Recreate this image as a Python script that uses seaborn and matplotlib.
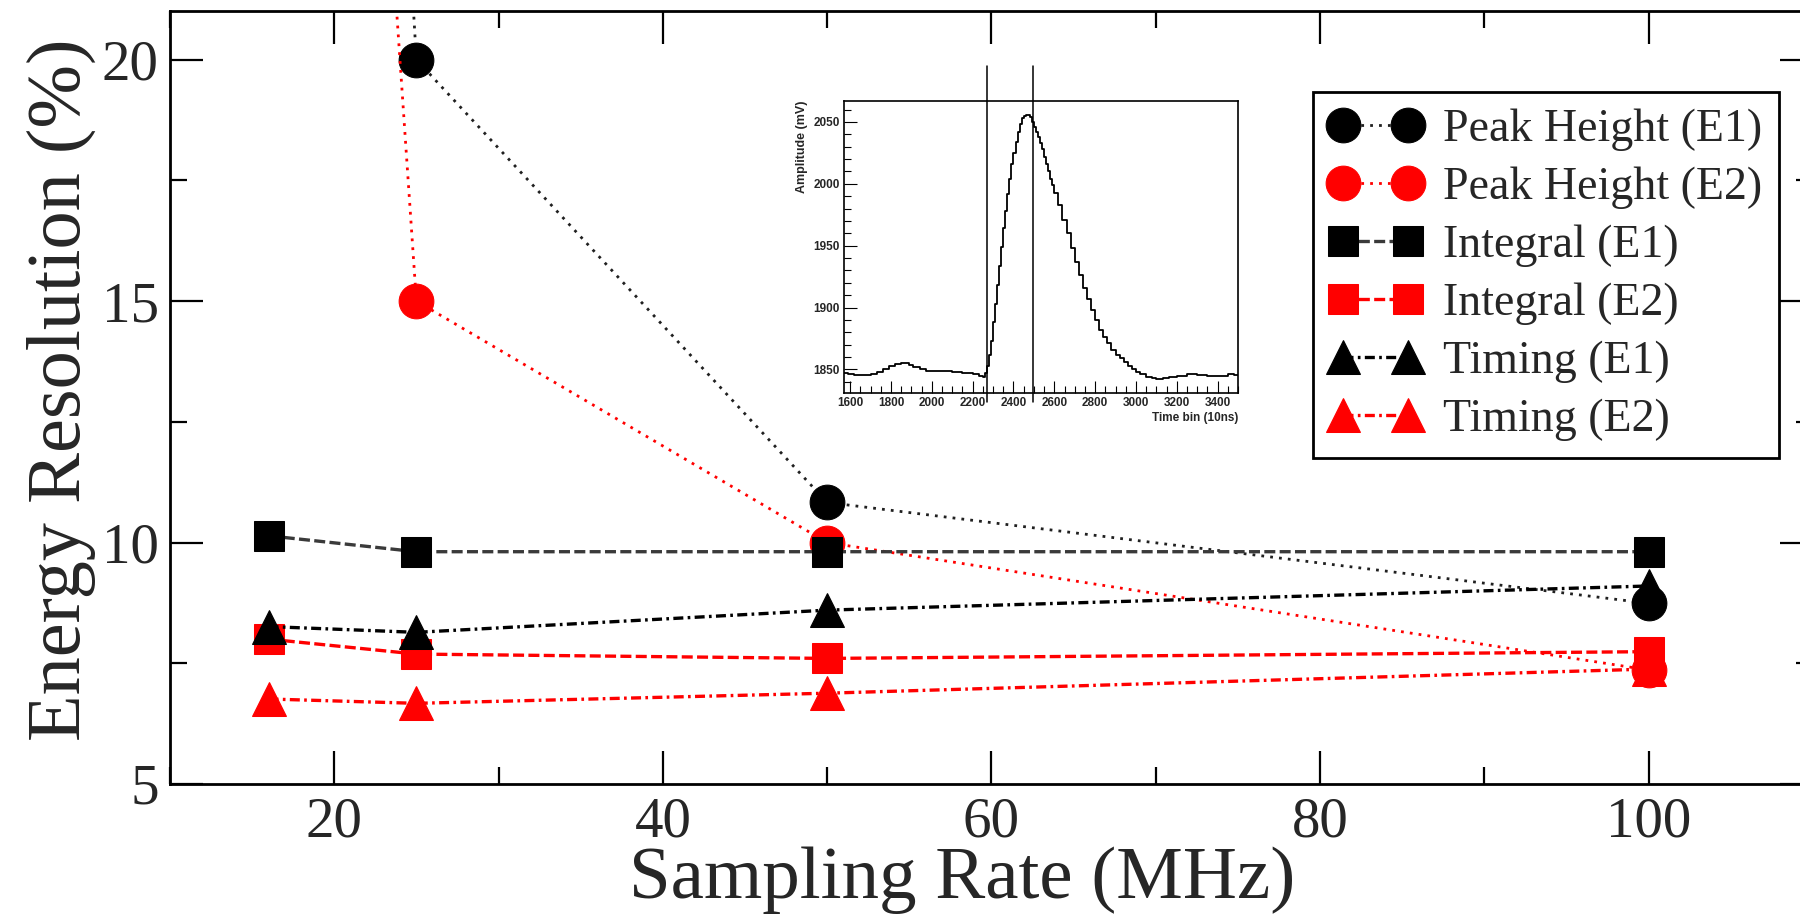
import pandas as pd
import seaborn as sns

from matplotlib import pyplot as plt
from matplotlib.ticker import MultipleLocator

# sampling rates (MHz) and energy resolution (%)
RATES = [16, 25, 50, 100]
PEAK_E1 = [72.0, 20.0, 10.83, 8.74]
PEAK_E2 = [60.0, 15.0, 10.0, 7.36]
INTEGRAL_E1 = [10.14, 9.81, 9.81, 9.81]
INTEGRAL_E2 = [8.0, 7.69, 7.6, 7.74]
TIMING_E1 = [8.26, 8.14, 8.6, 9.1]
TIMING_E2 = [6.76, 6.67, 6.88, 7.38]

# inset waveform: time bin (10ns) and amplitude (mV)
WAVE_T = [1570, 1590, 1620, 1660, 1700, 1730, 1760, 1790, 1820, 1850, 1870, 1890,
          1910, 1940, 1970, 2000, 2050, 2100, 2150, 2200, 2230, 2250, 2260, 2270,
          2280, 2290, 2300, 2310, 2320, 2330, 2340, 2350, 2360, 2370, 2380, 2390,
          2400, 2410, 2420, 2430, 2440, 2450, 2460, 2470, 2480, 2490, 2500, 2510,
          2520, 2530, 2540, 2550, 2560, 2570, 2580, 2590, 2600, 2620, 2640, 2660,
          2680, 2700, 2720, 2740, 2760, 2780, 2800, 2820, 2840, 2860, 2880, 2900,
          2920, 2940, 2960, 2980, 3000, 3020, 3050, 3080, 3100, 3130, 3160, 3200,
          3250, 3300, 3350, 3400, 3450, 3480, 3500]
WAVE_MV = [1847, 1846.5, 1845.5, 1845.5, 1846.5, 1848, 1850, 1852.5, 1854, 1855.5, 1855, 1853.5,
           1852, 1850, 1849, 1848.5, 1848.5, 1848, 1847, 1846, 1845, 1844, 1847, 1853,
           1862, 1873, 1888, 1903, 1918, 1934, 1949, 1964, 1978, 1992, 2004, 2016,
           2025, 2034, 2042, 2048, 2053, 2055, 2056, 2056, 2054, 2050, 2046, 2042,
           2038, 2033, 2028, 2022, 2016, 2010, 2004, 1999, 1993, 1983, 1971, 1960,
           1948, 1937, 1926, 1916, 1907, 1898, 1890, 1882, 1876, 1871, 1866, 1862,
           1859, 1856, 1853, 1850, 1848, 1846, 1844, 1843, 1842, 1843, 1844, 1845,
           1846, 1845.5, 1845, 1845, 1846, 1845.5, 1845.5]
GATE_LINES = [2270, 2495]

RED = '#ff0000'
DOT = (0, (1, 2.2))
DASH = (0, (3.3, 1.3))
DASHDOT = (0, (3.0, 1.3, 0.8, 1.3))

# label, values, line colour, marker colour, marker, line style, marker size
SERIES = [
    ('Peak Height (E1)', PEAK_E1, '#202020', 'black', 'o', DOT, 25),
    ('Peak Height (E2)', PEAK_E2, RED, RED, 'o', DOT, 25),
    ('Integral (E1)', INTEGRAL_E1, '#3a3a3a', 'black', 's', DASH, 22),
    ('Integral (E2)', INTEGRAL_E2, RED, RED, 's', DASH, 22),
    ('Timing (E1)', TIMING_E1, 'black', 'black', '^', DASHDOT, 25),
    ('Timing (E2)', TIMING_E2, RED, RED, '^', DASHDOT, 25),
]


def main():
    sns.set_style('ticks')
    plt.rcParams['font.family'] = ['Liberation Serif', 'DejaVu Serif']

    fig = plt.figure(figsize=(18, 9.22), dpi=100)
    ax = fig.add_axes([0.0944, 0.1497, 0.9128, 0.838])

    for label, values, lcolor, mcolor, marker, ls, ms in SERIES:
        df = pd.DataFrame({'RATE': RATES, 'RES': values})
        lw = 2.0 if ls is DOT else 2.4
        sns.lineplot(x='RATE', y='RES', data=df, ax=ax, color=lcolor, label=label,
                     marker=marker, markersize=ms, markeredgecolor=mcolor,
                     markerfacecolor=mcolor, linestyle=ls, linewidth=lw, errorbar=None)

    ax.set_xlim(10, 110)
    ax.set_ylim(5, 21)
    ax.xaxis.set_major_locator(MultipleLocator(20))
    ax.xaxis.set_minor_locator(MultipleLocator(10))
    ax.yaxis.set_major_locator(MultipleLocator(5))
    ax.yaxis.set_minor_locator(MultipleLocator(2.5))
    ax.tick_params(which='both', direction='in', top=True, right=True, width=1.6, color='black')
    ax.tick_params(which='major', length=24, labelsize=41)
    ax.tick_params(which='minor', length=12)
    ax.tick_params(axis='x', which='major', pad=9)
    ax.tick_params(axis='y', which='major', pad=8)
    for spine in ax.spines.values():
        spine.set_linewidth(2)
        spine.set_color('black')

    ax.set_xlabel('Sampling Rate (MHz)', fontsize=54)
    ax.set_ylabel('Energy Resolution (%)', fontsize=55)
    ax.xaxis.set_label_coords(0.482, -0.148)
    ax.xaxis.label.set_va('baseline')
    ax.yaxis.set_label_coords(-0.066, 0.51)
    ax.yaxis.label.set_va('center')

    leg = ax.legend(loc='upper left', bbox_to_anchor=(0.6957, 0.896), borderaxespad=0,
                    frameon=True, fancybox=False, edgecolor='black', framealpha=1,
                    fontsize=33, handlelength=2.02, handletextpad=0.46, borderpad=0.36,
                    labelspacing=0.34, numpoints=2)
    leg.get_frame().set_linewidth(2)

    ######################
    ## INSET: WAVEFORM  ##
    ######################

    ax_in = fig.add_axes([0.4689, 0.5738, 0.2189, 0.3167])
    wave = pd.DataFrame({'T': WAVE_T, 'MV': WAVE_MV})
    sns.lineplot(x='T', y='MV', data=wave, ax=ax_in, color='black', linewidth=1.3,
                 drawstyle='steps-post', errorbar=None)
    for t in GATE_LINES:
        ax_in.axvline(t, ymin=-0.03, ymax=1.12, color='black', linewidth=1.1, clip_on=False)

    ax_in.set_xlim(1570, 3500)
    ax_in.set_ylim(1831, 2067)
    ax_in.xaxis.set_major_locator(MultipleLocator(200))
    ax_in.xaxis.set_minor_locator(MultipleLocator(50))
    ax_in.yaxis.set_major_locator(MultipleLocator(50))
    ax_in.yaxis.set_minor_locator(MultipleLocator(10))
    ax_in.tick_params(which='both', direction='in', width=0.8, color='black')
    ax_in.tick_params(which='major', length=9, pad=3)
    ax_in.tick_params(which='minor', length=5)
    for lab in ax_in.get_xticklabels() + ax_in.get_yticklabels():
        lab.set_family('Liberation Sans')
        lab.set_fontweight('bold')
        lab.set_fontsize(8.5)
    for spine in ax_in.spines.values():
        spine.set_linewidth(1.2)
        spine.set_color('black')
    ax_in.set_xlabel('Time bin (10ns)', loc='right', fontsize=8.5, family='Liberation Sans',
                     fontweight='bold', labelpad=2)
    ax_in.set_ylabel('Amplitude (mV)', loc='top', fontsize=9, family='Liberation Sans',
                     fontweight='bold', labelpad=4)

    fig.savefig('out.png', dpi=100)

    return


if __name__ == '__main__':
    main()
